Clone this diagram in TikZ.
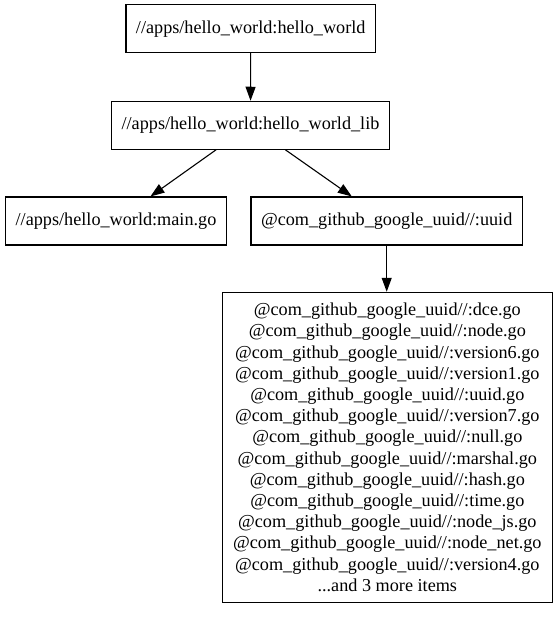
\documentclass[tikz,border=0pt]{standalone}
\usepackage{fontspec}
\setmainfont{Liberation Serif}
\usetikzlibrary{arrows.meta}
\begin{document}
\begin{tikzpicture}[x=1pt, y=-1pt,
    every node/.style={rectangle, draw, line width=1.1pt, inner xsep=10pt,
      minimum height=48pt, align=center,
      font=\fontsize{18.2}{21.2}\selectfont},
    dep/.style={line width=1.1pt, -{Triangle[length=14pt, width=10pt]}}]
            \useasboundingbox (0,0) rectangle (556,617);
            % Targets
            \node (hw) at (250.7,28.7) {//apps/hello\_world:hello\_world};
            \node (lib) at (250.5,125.3) {//apps/hello\_world:hello\_world\_lib};
            \node (main) at (116,221) {//apps/hello\_world:main.go};
            \node (uuid) at (386.7,221) {@com\_github\_google\_uuid//:uuid};

            % Source files
            \node[minimum width=330pt, minimum height=310pt] (files) at (387.3,447.3) {%
              @com\_github\_google\_uuid//:dce.go\\
              @com\_github\_google\_uuid//:node.go\\
              @com\_github\_google\_uuid//:version6.go\\
              @com\_github\_google\_uuid//:version1.go\\
              @com\_github\_google\_uuid//:uuid.go\\
              @com\_github\_google\_uuid//:version7.go\\
              @com\_github\_google\_uuid//:null.go\\
              @com\_github\_google\_uuid//:marshal.go\\
              @com\_github\_google\_uuid//:hash.go\\
              @com\_github\_google\_uuid//:time.go\\
              @com\_github\_google\_uuid//:node\_js.go\\
              @com\_github\_google\_uuid//:node\_net.go\\
              @com\_github\_google\_uuid//:version4.go\\
              ...and 3 more items};

            \draw[dep] (hw) -- (lib);
            \draw[dep] (lib) -- (main);
            \draw[dep] (lib) -- (uuid);
            \draw[dep] (uuid.south) -- (files.north -| uuid.south);
          \end{tikzpicture}
\end{document}
